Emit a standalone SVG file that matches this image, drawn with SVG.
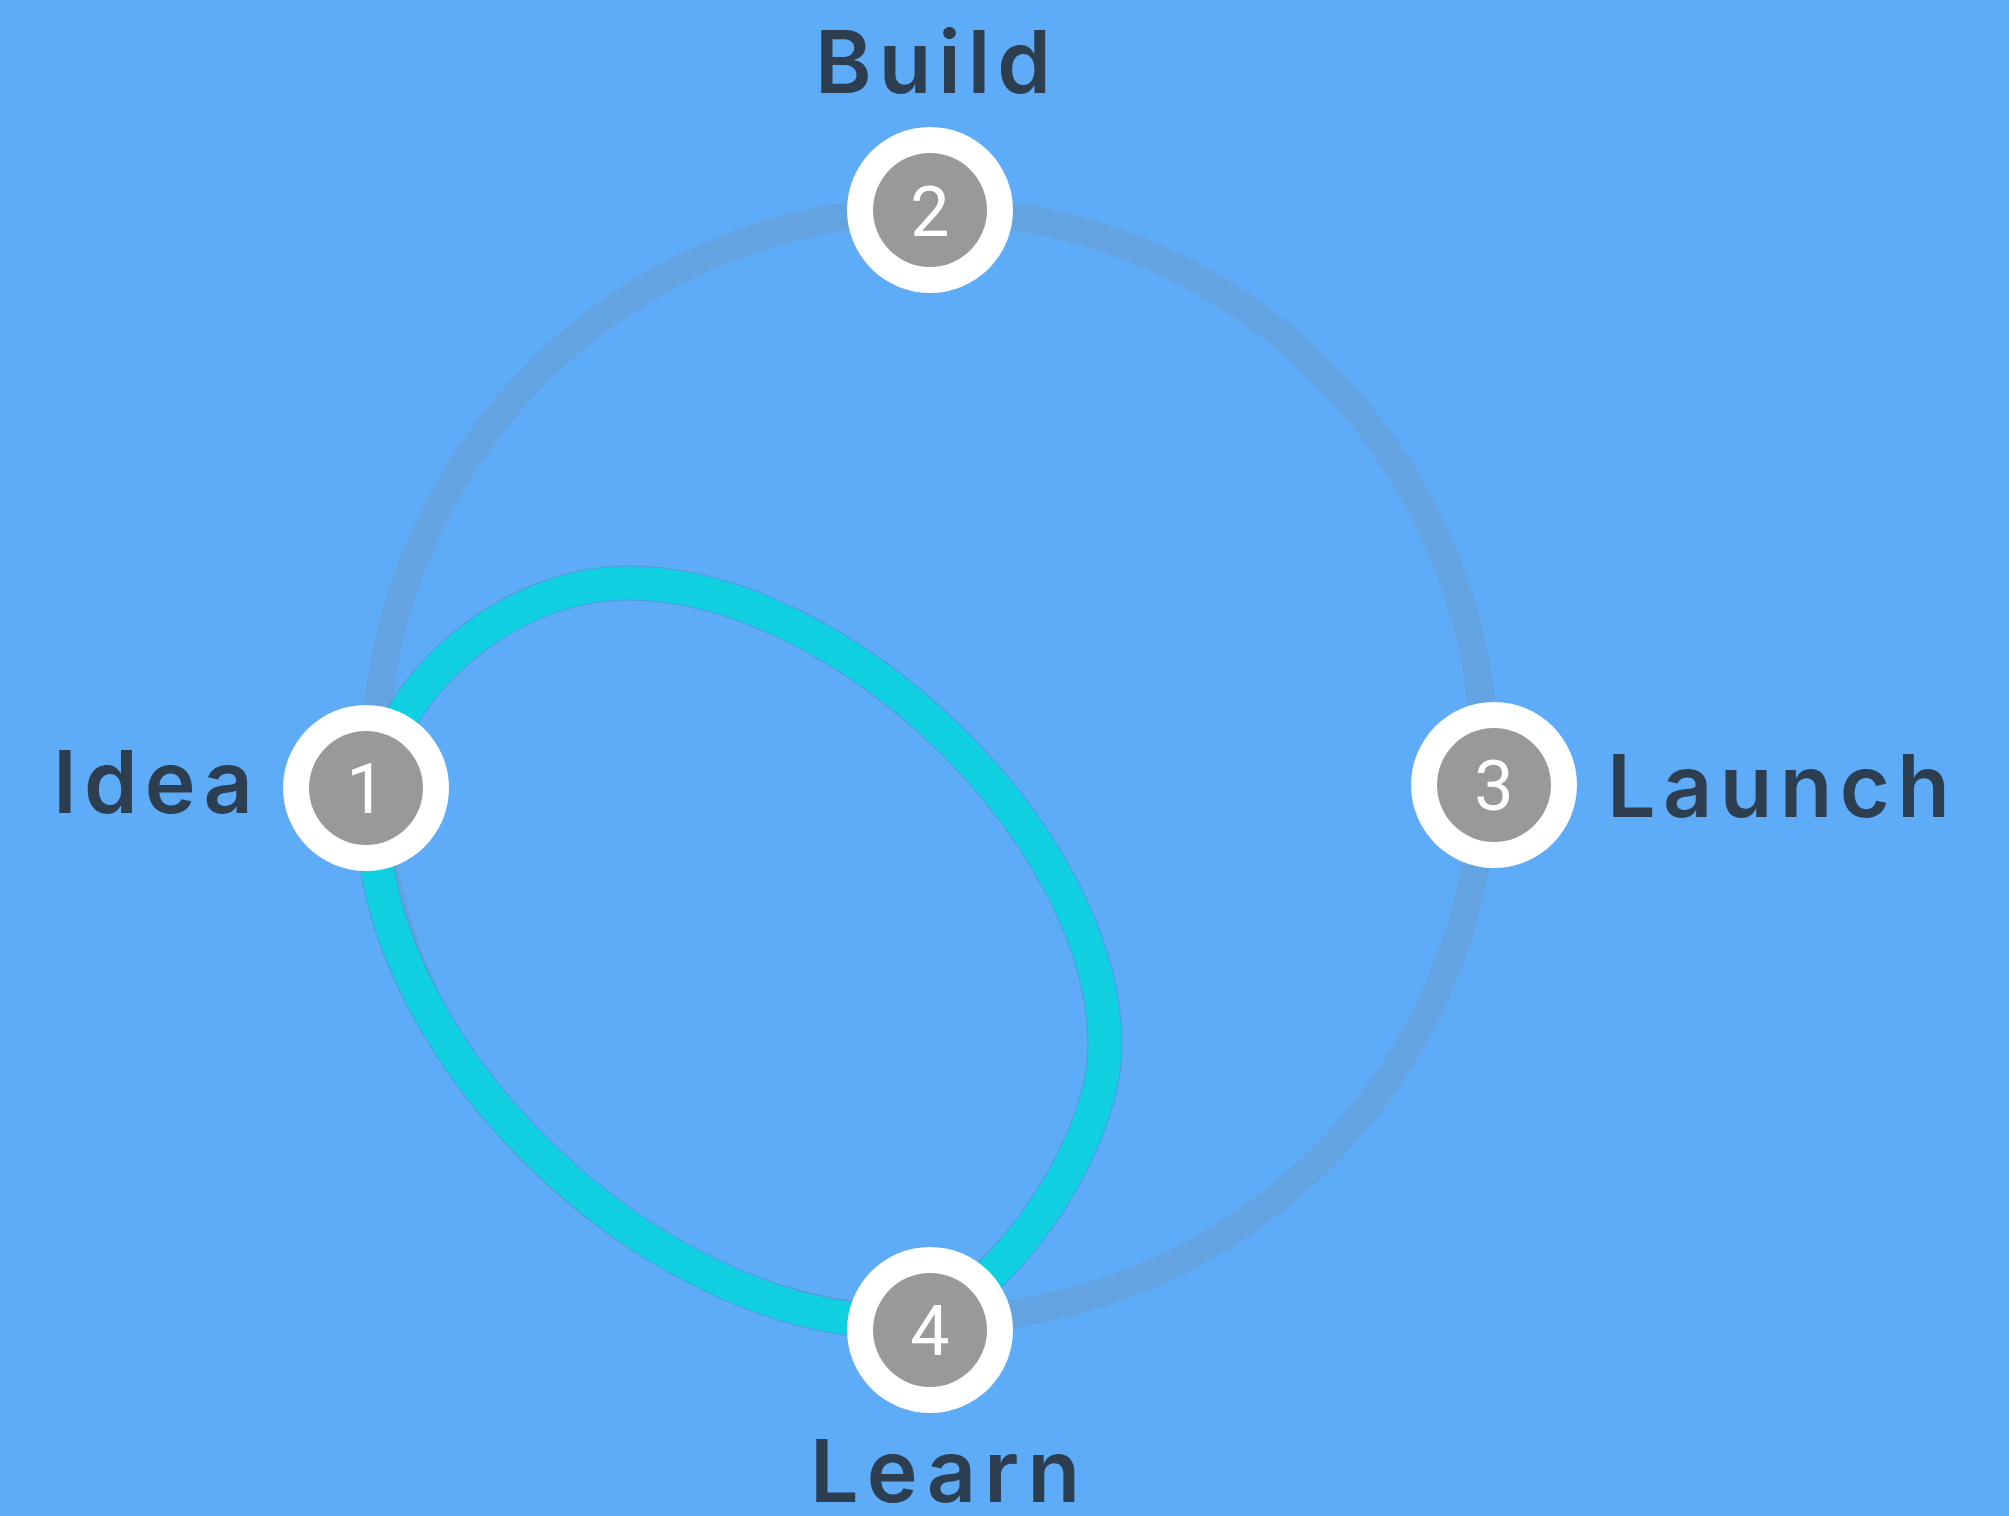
<svg xmlns="http://www.w3.org/2000/svg" width="2009" height="1516" viewBox="0 0 2009 1516">
  <style>
    .ring { fill: none; stroke: #64a3e1; stroke-width: 28; }
    .loop-edge { fill: none; stroke: #2f6fa6; stroke-width: 35; stroke-opacity: 0.3; }
    .loop { fill: none; stroke: #0fcfe0; stroke-width: 33; }
    .outer { fill: #ffffff; }
    .inner { fill: #999999; }
    .num { fill: #ffffff; font-family: Roboto, "Noto Sans", "DejaVu Sans", sans-serif; font-weight: 400; font-size: 70px; text-anchor: middle; }
    .label { fill: #2c3e50; font-family: Inter, Lato, "Noto Sans", "Liberation Sans", sans-serif; font-size: 86px; font-weight: 600; }
  </style>
  <defs>
    <path id="loop-shape" d="M628,583 C843,583 1105,837 1105,1045 C1105,1156 982,1322 900,1322 C652,1322 373,1053 373,815 C373,699 500,583 628,583 Z"/>
  </defs>
  <rect x="0" y="0" width="2009" height="1516" fill="#5eabf7"/>
  <g id="connectors">
    <circle class="ring" cx="930" cy="765" r="555"/>
    <use href="#loop-shape" class="loop-edge"/>
    <use href="#loop-shape" class="loop"/>
  </g>
  <g id="node-1">
    <circle class="outer" cx="366" cy="788" r="83"/>
    <circle class="inner" cx="366" cy="788" r="57"/>
    <text class="num" x="366" y="813">1</text>
    <text class="label" x="53" y="813" textLength="200" lengthAdjust="spacing">Idea</text>
  </g>
  <g id="node-2">
    <circle class="outer" cx="930" cy="210" r="83"/>
    <circle class="inner" cx="930" cy="210" r="57"/>
    <text class="num" x="930" y="236">2</text>
    <text class="label" x="815" y="93" textLength="236" lengthAdjust="spacing">Build</text>
  </g>
  <g id="node-3">
    <circle class="outer" cx="1494" cy="785" r="83"/>
    <circle class="inner" cx="1494" cy="785" r="57"/>
    <text class="num" x="1494" y="810">3</text>
    <text class="label" x="1607" y="817" textLength="343" lengthAdjust="spacing">Launch</text>
  </g>
  <g id="node-4">
    <circle class="outer" cx="930" cy="1330" r="83"/>
    <circle class="inner" cx="930" cy="1330" r="57"/>
    <text class="num" x="930" y="1355">4</text>
    <text class="label" x="810" y="1502" textLength="270" lengthAdjust="spacing">Learn</text>
  </g>
</svg>
